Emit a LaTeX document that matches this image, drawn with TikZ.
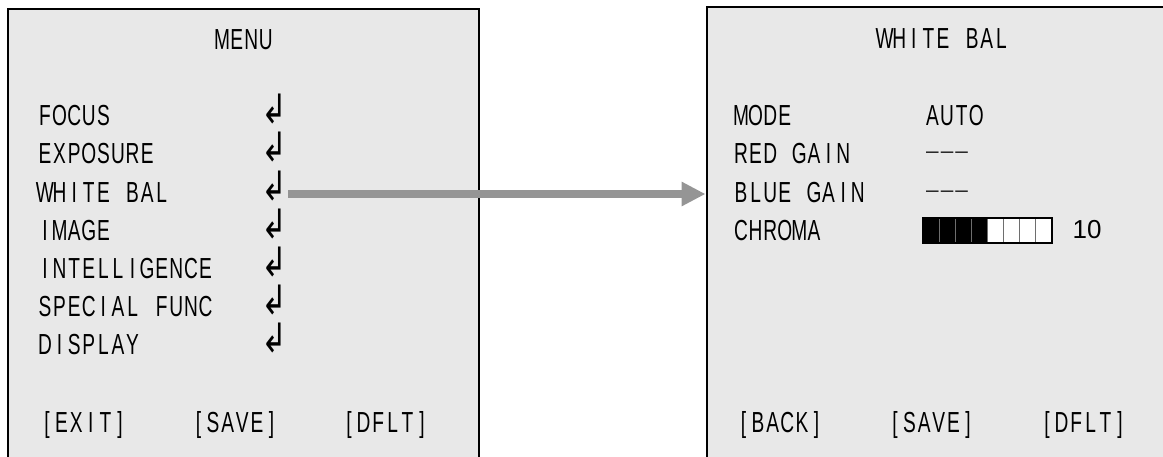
\documentclass[tikz,border=0pt]{standalone}
\usepackage{fontspec}
\usetikzlibrary{arrows.meta}
\newfontfamily\osd[FakeStretch=0.66]{Liberation Sans}
\newfontfamily\numf{Liberation Sans}
\newfontfamily\symf{DejaVu Sans}
\definecolor{panelgray}{RGB}{232,232,232}
\definecolor{arrowgray}{RGB}{149,149,149}
\definecolor{divgray}{RGB}{110,110,110}

% fixed-pitch on-screen-display text: every character gets its own cell
\newcommand\cellbox[1]{\makebox[14.6pt][c]{#1}}
\def\monotext#1{\monoloop#1\relax}
\def\monoloop#1{\ifx\relax#1\else\cellbox{#1}\expandafter\monoloop\fi}
% an "unset" value: one long dash per cell
\newcommand\unset{\cellbox{\raisebox{6pt}{\fontsize{19}{21}\selectfont —}}}
% the "enter submenu" mark, tall and narrow
\newcommand\entermark{\scalebox{1.15}[1.5]{↲}}

\begin{document}
\begin{tikzpicture}[x=1pt,y=-1pt,
  panel/.style={draw=black, line width=2.6pt, fill=panelgray, rectangle,
                inner sep=0pt, anchor=north west},
  osdtext/.style={inner sep=0pt, font=\osd\fontsize{29}{31}\selectfont},
  item/.style={osdtext, anchor=base west},
  title/.style={osdtext, anchor=base},
  enter/.style={inner sep=0pt, anchor=base, font=\symf\fontsize{27}{29}\selectfont},
  flow/.style={draw=arrowgray, line width=8pt, -{Triangle[length=24pt,width=23pt]}},
]
\useasboundingbox (0,0) rectangle (1163,456);
\clip (0,0) rectangle (1163,456);

% panels
\node[panel, minimum width=471pt, minimum height=480pt] (menu) at (6.5,7.5) {};
\node[panel, minimum width=500pt, minimum height=480pt] (wb) at (705.5,5.5) {};

% main menu
\node[title] (menutitle) at (244,49) {\monotext{MENU}};
\node[item] (focus) at (37.5,125.6) {\monotext{FOCUS}};
\node[item] (expo)  at (37.5,163.8) {\monotext{EXPOSURE}};
\node[item] (white) at (37.5,202)   {\monotext{WHITE~BAL}};
\node[item] (image) at (37.5,240.2) {\monotext{IMAGE}};
\node[item] (intel) at (37.5,278.4) {\monotext{INTELLIGENCE}};
\node[item] (spec)  at (37.5,316.6) {\monotext{SPECIAL~FUNC}};
\node[item] (disp)  at (37.5,354.8) {\monotext{DISPLAY}};

\node[enter] (focusret) at (275,123.6) {\entermark};
\node[enter] (exporet)  at (275,161.8) {\entermark};
\node[enter] (wbret)    at (275,200)   {\entermark};
\node[enter] (imageret) at (275,238.2) {\entermark};
\node[enter] (intelret) at (275,276.4) {\entermark};
\node[enter] (specret)  at (275,314.6) {\entermark};
\node[enter] (dispret)  at (275,352.8) {\entermark};

\node[title] (exit)  at (83.5,432)  {\monotext{[EXIT]}};
\node[title] (save1) at (235,432)   {\monotext{[SAVE]}};
\node[title] (dflt1) at (385.5,432) {\monotext{[DFLT]}};

% white balance submenu
\node[title] (wbtitle) at (943,48) {\monotext{WHITE~BAL}};
\node[item] (mode)  at (733.5,125.6) {\monotext{MODE}};
\node[item] (red)   at (733.5,163.8) {\monotext{RED~GAIN}};
\node[item] (blue)  at (733.5,202)   {\monotext{BLUE~GAIN}};
\node[item] (chroma) at (733.5,240.2) {\monotext{CHROMA}};
\node[item] (auto)  at (925,125.6) {\monotext{AUTO}};
\node[item] (redv)  at (925,163.8) {\unset\unset\unset};
\node[item] (bluev) at (925,202)   {\unset\unset\unset};

% chroma level bar
\fill[white] (923,218) rectangle (1052,243);
\fill[black] (923,218) rectangle (987.5,243);
\foreach \i in {1,...,7}
  \draw[divgray, line width=0.8pt] (923+\i*16.125,218) -- (923+\i*16.125,243);
\draw[black, line width=1.2pt] (923,218) rectangle (1052,243);
\node[anchor=base, inner sep=0pt, font=\numf\fontsize{26}{28}\selectfont] (chromav) at (1087,238) {10};

\node[title] (back)  at (780,432)    {\monotext{[BACK]}};
\node[title] (save2) at (931.5,432)  {\monotext{[SAVE]}};
\node[title] (dflt2) at (1083.5,432) {\monotext{[DFLT]}};

% link from the menu entry to its submenu
\coordinate (linkstart) at ([yshift=6pt]wbret.base east);
\draw[flow] (linkstart) -- (linkstart -| wb.west);
\end{tikzpicture}
\end{document}
